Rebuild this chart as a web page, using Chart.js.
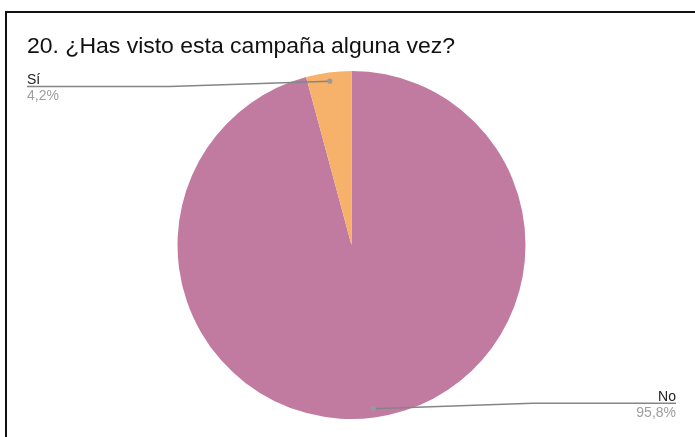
<!DOCTYPE html>
<html>
<head>
<meta charset="utf-8">
<script src="https://cdn.jsdelivr.net/npm/chart.js@4.4.1/dist/chart.umd.min.js"></script>
<style>
  html, body { margin: 0; padding: 0; background: #fff; }
  #wrap { position: relative; width: 695px; height: 437px; overflow: hidden; }
  #card {
    position: absolute; left: 5px; top: 11px; width: 800px; height: 600px;
    border-left: 2px solid #111; border-top: 2px solid #111;
  }
  #pie { position: absolute; left: 0; top: 0; }
</style>
</head>
<body>
<div id="wrap">
  <div id="card"></div>
  <canvas id="pie" width="695" height="437"></canvas>
</div>
<script>
// answers to question 20, percent of respondents
const categories = ["No", "Sí"]
const percents = [95.8, 4.2]
const sliceColors = ["#c27ba0", "#f6b26b"]
const titleText = "20. ¿Has visto esta campaña alguna vez?"

const fmtPct = v => v.toFixed(1).replace(".", ",") + "%"

// heading, drawn by hand so it can be set a little wider than Arial
const heading = {
  id: "heading",
  afterDraw(chart, args, opts) {
    const ctx = chart.ctx
    ctx.save()
    ctx.font = opts.font
    ctx.fillStyle = opts.color
    ctx.textBaseline = "alphabetic"
    const w = ctx.measureText(opts.text).width
    ctx.translate(opts.x, opts.y)
    ctx.scale(opts.width / w, 1)
    ctx.fillText(opts.text, 0, 0)
    ctx.restore()
  }
}

// leader lines + name/percent labels, Google-Sheets style
const sliceLabels = {
  id: "sliceLabels",
  afterDatasetsDraw(chart) {
    const ctx = chart.ctx
    const meta = chart.getDatasetMeta(0)
    meta.data.forEach((arc, i) => {
      const p = arc.getProps(["x", "y", "startAngle", "endAngle", "outerRadius"], true)
      const mid = (p.startAngle + p.endAngle) / 2
      const dx = p.x + Math.cos(mid) * p.outerRadius * 0.95
      const dy = p.y + Math.sin(mid) * p.outerRadius * 0.95
      const left = dx < p.x
      const upper = dy < p.y
      const lineY = dy + (upper ? 5.3 : -5.7)
      const bendX = left ? p.x - p.outerRadius - 8 : p.x + p.outerRadius + 7
      const endX = left ? 27 : 676

      ctx.save()
      ctx.strokeStyle = "#858585"
      ctx.lineWidth = 1.5
      ctx.beginPath()
      ctx.moveTo(dx, dy)
      ctx.lineTo(bendX, lineY)
      ctx.lineTo(endX, lineY)
      ctx.stroke()

      ctx.fillStyle = "#9a9a9a"
      ctx.beginPath()
      ctx.arc(dx, dy, 2.6, 0, Math.PI * 2)
      ctx.fill()

      ctx.textAlign = left ? "left" : "right"
      ctx.textBaseline = "alphabetic"
      ctx.font = "14px 'Liberation Sans', Arial, sans-serif"
      ctx.fillStyle = "#222"
      ctx.fillText(categories[i], endX, lineY - 2.4)
      ctx.fillStyle = "#9e9e9e"
      ctx.fillText(fmtPct(percents[i]), endX, lineY + 13.4)
      ctx.restore()
    })
  }
}

const chart = new Chart(document.getElementById("pie"), {
  type: "pie",
  data: {
    labels: categories,
    datasets: [{
      data: percents,
      backgroundColor: sliceColors,
      borderWidth: 0
    }]
  },
  options: {
    responsive: false,
    animation: false,
    layout: { padding: { left: 27, right: 19, top: 71, bottom: 18 } },
    plugins: {
      legend: { display: false },
      tooltip: { enabled: false },
      heading: {
        text: titleText,
        x: 27, y: 52.5, width: 428,
        color: "#111",
        font: "21.5px 'Liberation Sans', Arial, sans-serif"
      }
    }
  },
  plugins: [heading, sliceLabels]
})
</script>
</body>
</html>
